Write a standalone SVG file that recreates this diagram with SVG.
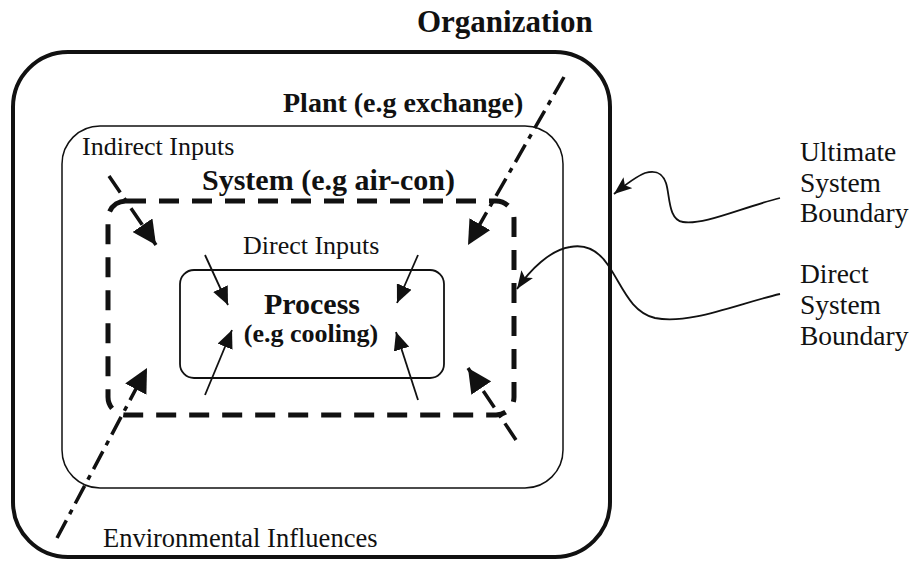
<svg xmlns="http://www.w3.org/2000/svg" width="917" height="564" viewBox="0 0 917 564">
<style>
.t{font-family:"Liberation Serif","Times New Roman",serif;fill:#111}
.b{font-weight:bold}
.box{fill:none;stroke:#111}
.ind{fill:none;stroke:#111;stroke-width:3.5;stroke-dasharray:20 7 5 7}
.dir{fill:none;stroke:#111;stroke-width:1.8}
.cur{fill:none;stroke:#111;stroke-width:1.8}
</style>
<defs>
<marker id="big" markerUnits="userSpaceOnUse" markerWidth="26" markerHeight="24" refX="24" refY="12" orient="auto"><path d="M0,0 L24,12 L0,24 z" fill="#111"/></marker>
<marker id="small" markerUnits="userSpaceOnUse" markerWidth="20" markerHeight="16" refX="18" refY="8" orient="auto"><path d="M0,0 L18,8 L0,16 z" fill="#111"/></marker>
<marker id="cv" markerUnits="userSpaceOnUse" markerWidth="20" markerHeight="14" refX="18" refY="7" orient="auto"><path d="M0,0 L18,7 L0,14 L4,7 z" fill="#111"/></marker>
</defs>
<rect width="917" height="564" fill="#fff"/>
<text class="t b" x="417" y="32" font-size="31">Organization</text>
<g id="organization">
<rect class="box" x="13" y="52" width="597" height="505" rx="55" stroke-width="4"/>
</g>
<g id="plant">
<rect class="box" x="62" y="126" width="501" height="362" rx="38" stroke-width="1.5"/>
<text class="t b" x="283" y="112" font-size="28">Plant (e.g exchange)</text>
</g>
<g id="system">
<rect class="box" x="108" y="201" width="406" height="214" rx="18" stroke-width="5" stroke-dasharray="20 13"/>
<text class="t b" x="202" y="190" font-size="30">System (e.g air-con)</text>
</g>
<g id="process">
<rect class="box" x="180" y="270" width="264" height="108" rx="14" stroke-width="1.8"/>
<text class="t b" x="312" y="314" font-size="30" text-anchor="middle">Process</text>
<text class="t b" x="311" y="342" font-size="26" text-anchor="middle">(e.g cooling)</text>
</g>
<g id="labels">
<text class="t" x="82" y="155" font-size="26">Indirect Inputs</text>
<text class="t" x="243" y="254" font-size="26">Direct Inputs</text>
<text class="t" x="103" y="547" font-size="26.5">Environmental Influences</text>
</g>
<g id="ultimate-label">
<text class="t" x="800" y="161" font-size="27.5">Ultimate</text>
<text class="t" x="800" y="192" font-size="27.5">System</text>
<text class="t" x="800" y="222" font-size="27.5">Boundary</text>
</g>
<g id="direct-label">
<text class="t" x="800" y="283" font-size="27.5">Direct</text>
<text class="t" x="800" y="314" font-size="27.5">System</text>
<text class="t" x="800" y="345" font-size="27.5">Boundary</text>
</g>
<g id="connectors">
<line class="ind" x1="109" y1="176" x2="156" y2="245" marker-end="url(#big)"/>
<line class="ind" x1="564" y1="77" x2="468" y2="245" marker-end="url(#big)"/>
<line class="ind" x1="57" y1="538" x2="147" y2="368" marker-end="url(#big)"/>
<line class="ind" x1="516" y1="440" x2="468" y2="368" marker-end="url(#big)"/>
<line class="dir" x1="205" y1="255" x2="228" y2="305" marker-end="url(#small)"/>
<line class="dir" x1="418" y1="255" x2="397" y2="303" marker-end="url(#small)"/>
<line class="dir" x1="205" y1="395" x2="232" y2="330" marker-end="url(#small)"/>
<line class="dir" x1="418" y1="400" x2="396" y2="332" marker-end="url(#small)"/>
<path class="cur" d="M780,198 C740,208 705,225 683,222 C668,220 670,195 666,183 C662,172 655,170 645,173 C635,177 625,185 614,194" marker-end="url(#cv)"/>
<path class="cur" d="M780,294 C740,303 690,325 655,318 C630,312 622,285 608,265 C598,250 585,244 570,247 C550,250 530,270 517,289" marker-end="url(#cv)"/>
</g>
</svg>
